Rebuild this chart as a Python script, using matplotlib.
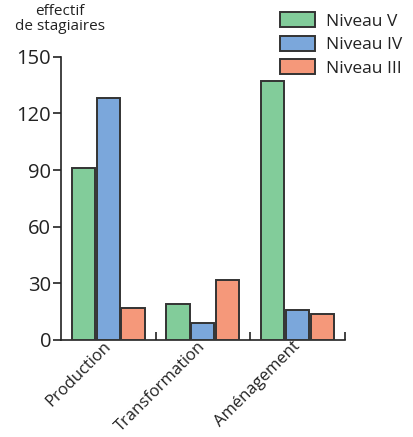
import matplotlib
matplotlib.use("Agg")
import matplotlib.pyplot as plt
import matplotlib.transforms as mtransforms
import numpy as np

plt.rcParams['font.family'] = ['Open Sans', 'DejaVu Sans']

# data
categories = ["Production", "Transformation", "Aménagement"]
series = ["Niveau V", "Niveau IV", "Niveau III"]
niveau_v = [91, 19, 137]
niveau_iv = [128, 9, 16]
niveau_iii = [17, 32, 14]
yticks = [0, 30, 60, 90, 120, 150]

colors = ["#82cc9a", "#7ba7db", "#f5987a"]

fig = plt.figure(figsize=(4.14, 4.37), dpi=100)
ax = fig.add_axes([0.147, 0.222, 0.686, 0.648])

x = np.arange(len(categories))
width = 0.245
step = 0.263
for k, vals in enumerate([niveau_v, niveau_iv, niveau_iii]):
	ax.bar(x + (k - 1) * step, vals, width, color=colors[k], edgecolor="#333333",
		linewidth=1.4, label=series[k], zorder=3)

ax.set_xlim(-0.5, 2.5)
ax.set_ylim(0, 150)
ax.set_yticks(yticks)
ax.set_yticklabels([str(v) for v in yticks], fontsize=14.5, color="#222222")
ax.tick_params(axis="y", length=6, width=1.2, color="#222222", pad=1)

ax.set_xticks(x)
ax.set_xticklabels(categories, rotation=45, ha="right", va="top",
	rotation_mode="anchor", fontsize=12, color="#222222")
ax.tick_params(axis="x", which="major", length=0, pad=1)
# nudge the rotated labels so their upper end sits under the group centre
offset = mtransforms.ScaledTranslation(-5 / 100, 3 / 100, fig.dpi_scale_trans)
for lab in ax.get_xticklabels():
	lab.set_transform(lab.get_transform() + offset)
ax.set_xticks([0.5, 1.5, 2.5], minor=True)
ax.tick_params(axis="x", which="minor", direction="in", length=6, width=1.2, color="#222222")

for s in ["top", "right"]:
	ax.spines[s].set_visible(False)
for s in ["left", "bottom"]:
	ax.spines[s].set_linewidth(1.2)
	ax.spines[s].set_color("#222222")

fig.text(0.145, 0.99, "effectif\nde stagiaires", ha="center", va="top",
	fontsize=11, color="#222222", linespacing=1.0)

leg = fig.legend(loc="upper right", bbox_to_anchor=(1.0, 1.0), frameon=False,
	fontsize=12.5, handlelength=2.0, handleheight=0.95, handletextpad=0.6,
	labelspacing=0.35, borderaxespad=0.3)
for t in leg.get_texts():
	t.set_color("#222222")

fig.savefig("out.png", dpi=100)
